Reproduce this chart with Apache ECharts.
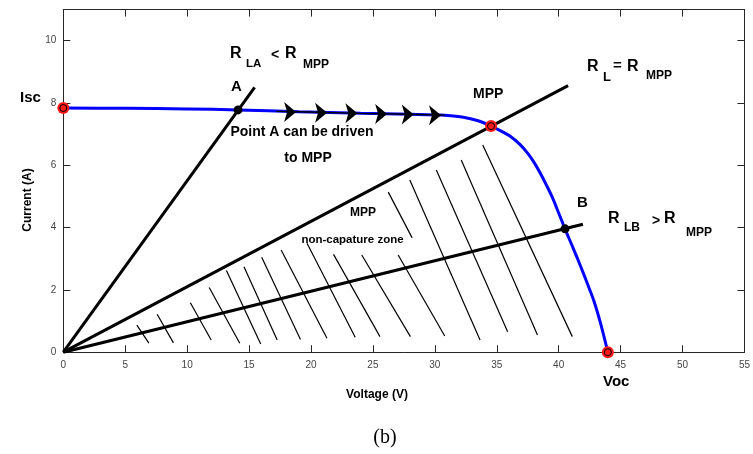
<!DOCTYPE html>
<html>
<head>
<meta charset="utf-8">
<script src="https://cdn.jsdelivr.net/npm/echarts@6/dist/echarts.min.js"></script>
<style>
  html, body { margin: 0; padding: 0; background: #ffffff; }
  #chart { width: 753px; height: 454px; }
</style>
</head>
<body>
<div id="chart"></div>
<script>
// PV module I-V characteristic (current in A against voltage in V)
const voltage = [0, 5, 10, 14.11, 19, 24, 28, 30.8, 32.2, 33.5, 34.54, 35.4, 36.14, 36.85, 37.49, 38.05, 38.55, 39.03, 39.49, 40.0, 40.51, 41.15, 41.77, 42.3, 42.84, 43.4, 43.97];
const current = [7.84, 7.83, 7.81, 7.78, 7.72, 7.67, 7.64, 7.61, 7.55, 7.43, 7.26, 7.09, 6.92, 6.68, 6.39, 6.07, 5.72, 5.35, 4.97, 4.47, 3.96, 3.36, 2.76, 2.22, 1.65, 0.90, 0];

// Axis ticks
const xTicks = [0, 5, 10, 15, 20, 25, 30, 35, 40, 45, 50, 55];
const yTicks = [0, 2, 4, 6, 8, 10];

// Load lines through the origin: R_LA, R_L = R_MPP, R_LB (end points)
const loadLineV = [15.45, 40.76, 41.96];
const loadLineI = [8.50, 8.56, 4.11];

// Named points: Isc, MPP, Voc (red) and operating points A, B (black)
const redPointV = [0, 34.54, 43.97];
const redPointI = [7.84, 7.26, 0];
const opPointV = [14.11, 40.51];
const opPointI = [7.78, 3.96];

// Direction arrows along the curve from A towards the MPP
const arrowV = [18.8, 21.3, 23.75, 26.15, 28.3, 30.5];
const arrowI = [7.71, 7.69, 7.67, 7.65, 7.63, 7.61];
const shaftV = [17.2, 19, 24, 28, 30.8];
const shaftI = [7.73, 7.72, 7.67, 7.64, 7.61];

// Hatching of the non-capture zone (start / end of each stroke)
const hatchStartV = [5.94, 7.58, 10.26, 11.78, 13.17, 14.59, 16.02, 17.59, 19.68, 21.82, 24.10, 27.04, 26.24, 27.98, 30.12, 32.13, 33.87];
const hatchStartI = [0.87, 1.22, 1.59, 2.08, 2.62, 2.74, 3.05, 3.28, 3.50, 3.14, 3.12, 3.12, 5.14, 5.53, 5.85, 6.17, 6.65];
const hatchEndV = [6.91, 8.89, 11.94, 14.25, 15.94, 17.27, 19.15, 21.29, 23.57, 25.57, 28.03, 30.80, 28.17, 33.65, 35.88, 38.29, 41.10];
const hatchEndI = [0.29, 0.30, 0.39, 0.29, 0.26, 0.39, 0.41, 0.45, 0.48, 0.50, 0.50, 0.52, 3.67, 0.39, 0.66, 0.55, 0.50];

const SANS = '"Liberation Sans", Arial, Helvetica, sans-serif';
const AXIS_COLOR = '#262626';
const LABEL_COLOR = '#444444';

const zip = (a, b) => a.map((v, i) => [v, b[i]]);

const chart = echarts.init(document.getElementById('chart'), null, { renderer: 'canvas' });

function axisX(position, showLabels) {
  return {
    type: 'value', min: 0, max: 55, interval: 5, position: position,
    axisLine: { show: true, onZero: false, lineStyle: { color: AXIS_COLOR, width: 1 } },
    axisTick: { show: true, inside: true, length: 7, customValues: xTicks, lineStyle: { color: AXIS_COLOR, width: 1 } },
    axisLabel: { show: showLabels, customValues: xTicks, color: LABEL_COLOR, fontSize: 10, margin: 8, fontFamily: SANS },
    splitLine: { show: false }
  };
}
function axisY(position, showLabels) {
  return {
    type: 'value', min: 0, max: 11, interval: 2, position: position,
    axisLine: { show: true, onZero: false, lineStyle: { color: AXIS_COLOR, width: 1 } },
    axisTick: { show: true, inside: true, length: 7, customValues: yTicks, lineStyle: { color: AXIS_COLOR, width: 1 } },
    axisLabel: { show: showLabels, customValues: yTicks, color: LABEL_COLOR, fontSize: 10, margin: 7, fontFamily: SANS },
    splitLine: { show: false }
  };
}

function txt(x, y, text, size, opts) {
  opts = opts || {};
  return {
    type: 'text', x: x, y: y, rotation: opts.rotation || 0, z: 100,
    style: {
      text: text,
      font: (opts.weight || 'bold') + ' ' + size + 'px ' + (opts.family || SANS),
      fill: opts.color || '#000000',
      align: opts.align || 'left',
      verticalAlign: 'middle'
    }
  };
}

const option = {
  animation: false,
  backgroundColor: '#ffffff',
  grid: { left: 63.3, right: 5, top: 9.6, bottom: 101.8, containLabel: false },
  xAxis: [axisX('bottom', true), axisX('top', false)],
  yAxis: [axisY('left', true), axisY('right', false)],
  series: [
    {
      name: 'hatch', type: 'lines', coordinateSystem: 'cartesian2d', silent: true, z: 2,
      lineStyle: { color: '#000000', width: 1.2, opacity: 1 },
      data: hatchStartV.map((v, i) => ({ coords: [[v, hatchStartI[i]], [hatchEndV[i], hatchEndI[i]]] }))
    },
    {
      name: 'load lines', type: 'lines', coordinateSystem: 'cartesian2d', silent: true, z: 3,
      lineStyle: { color: '#000000', width: 3, opacity: 1 },
      data: loadLineV.map((v, i) => ({ coords: [[0, 0], [v, loadLineI[i]]] }))
    },
    {
      name: 'I-V', type: 'line', smooth: 0.3, showSymbol: false, z: 4,
      lineStyle: { color: '#0000ff', width: 3 },
      data: zip(voltage, current)
    },
    {
      name: 'shaft', type: 'line', showSymbol: false, z: 5,
      lineStyle: { color: '#000000', width: 1.3 },
      data: zip(shaftV, shaftI)
    },
    {
      name: 'arrows', type: 'scatter', z: 6, symbol: 'arrow', symbolSize: [15, 12], symbolRotate: -90,
      itemStyle: { color: '#000000', opacity: 1 },
      data: zip(arrowV, arrowI)
    },
    {
      name: 'red points', type: 'scatter', z: 7, symbol: 'circle', symbolSize: 12,
      itemStyle: { color: '#ff1a1a', opacity: 1 },
      data: zip(redPointV, redPointI)
    },
    {
      name: 'red rings', type: 'scatter', z: 8, symbol: 'circle', symbolSize: 7,
      itemStyle: { color: 'rgba(0,0,0,0)', borderColor: '#000000', borderWidth: 1, opacity: 1 },
      data: zip(redPointV, redPointI)
    },
    {
      name: 'operating points', type: 'scatter', z: 8, symbol: 'circle', symbolSize: 9,
      itemStyle: { color: '#000000', opacity: 1 },
      data: zip(opPointV, opPointI)
    }
  ],
  graphic: [
    txt(20, 97.5, 'Isc', 15),
    txt(231, 87, 'A', 15),
    txt(473, 94, 'MPP', 14),
    txt(577, 202.5, 'B', 15),
    txt(603, 381.5, 'Voc', 15),
    txt(302, 132, 'Point A can be driven', 14, { align: 'center' }),
    txt(308, 158.5, 'to MPP', 14, { align: 'center' }),
    txt(363, 213, 'MPP', 12, { align: 'center' }),
    txt(352.5, 239.5, 'non-capature zone', 11.5, { align: 'center' }),
    // R_LA < R_MPP
    txt(230, 54, 'R', 16),
    txt(246, 64, 'LA', 11.5),
    txt(271, 55, '<', 14),
    txt(285, 54, 'R', 16),
    txt(303, 65, 'MPP', 12),
    // R_L = R_MPP
    txt(587, 66.5, 'R', 16),
    txt(603, 77, 'L', 13),
    txt(613, 65.5, '=', 15),
    txt(627, 66.5, 'R', 16),
    txt(646, 75.5, 'MPP', 12),
    // R_LB > R_MPP
    txt(608, 219, 'R', 16),
    txt(624, 227.5, 'LB', 12),
    txt(652, 221, '>', 14),
    txt(664, 219, 'R', 16),
    txt(686, 233, 'MPP', 12),
    // axis titles and panel tag
    txt(377, 395, 'Voltage (V)', 12, { align: 'center' }),
    txt(27.5, 200, 'Current (A)', 12, { align: 'center', rotation: Math.PI / 2 }),
    txt(385, 438, '(b)', 20, { align: 'center', weight: 'normal', family: '"Liberation Serif", "Times New Roman", serif' })
  ]
};

chart.setOption(option);
</script>
</body>
</html>
